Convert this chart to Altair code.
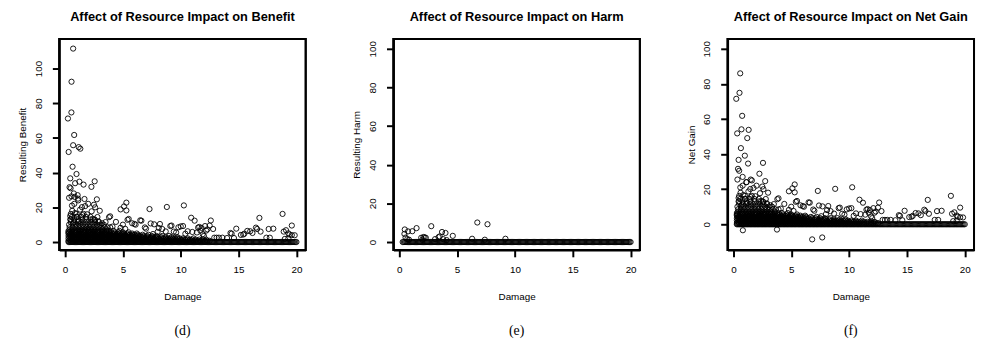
import altair as alt
import pandas as pd

# ---------------- data ----------------
titles = ["Affect of Resource Impact on Benefit",
          "Affect of Resource Impact on Harm",
          "Affect of Resource Impact on Net Gain"]
y_titles = ["Resulting Benefit", "Resulting Harm", "Net Gain"]
captions = ["(d)", "(e)", "(f)"]
x_ticks = [0, 5, 10, 15, 20]
y_ticks = [0, 20, 40, 60, 80, 100]

# solid band of points at zero (all three panels)
band0_x = [
    0.3, 0.4, 0.5, 0.6, 0.7, 0.8, 0.9, 1.0,
    1.1, 1.2, 1.3, 1.4, 1.5, 1.6, 1.7, 1.8, 1.9, 2.0,
    2.1, 2.2, 2.3, 2.4, 2.5, 2.6, 2.7, 2.8, 2.9, 3.0,
    3.1, 3.2, 3.3, 3.4, 3.5, 3.6, 3.7, 3.8, 3.9, 4.0,
    4.1, 4.2, 4.3, 4.4, 4.5, 4.6, 4.7, 4.8, 4.9, 5.0,
    5.1, 5.2, 5.3, 5.4, 5.5, 5.6, 5.7, 5.8, 5.9, 6.0,
    6.1, 6.2, 6.3, 6.4, 6.5, 6.6, 6.7, 6.8, 6.9, 7.0,
    7.1, 7.2, 7.3, 7.4, 7.5, 7.6, 7.7, 7.8, 7.9, 8.0,
    8.1, 8.2, 8.3, 8.4, 8.5, 8.6, 8.7, 8.8, 8.9, 9.0,
    9.1, 9.2, 9.3, 9.4, 9.5, 9.6, 9.7, 9.8, 9.9, 10.0,
    10.1, 10.2, 10.3, 10.4, 10.5, 10.6, 10.7, 10.8, 10.9, 11.0,
    11.1, 11.2, 11.3, 11.4, 11.5, 11.6, 11.7, 11.8, 11.9, 12.0,
    12.1, 12.2, 12.3, 12.4, 12.5, 12.6, 12.7, 12.8, 12.9, 13.0,
    13.1, 13.2, 13.3, 13.4, 13.5, 13.6, 13.7, 13.8, 13.9, 14.0,
    14.1, 14.2, 14.3, 14.4, 14.5, 14.6, 14.7, 14.8, 14.9, 15.0,
    15.1, 15.2, 15.3, 15.4, 15.5, 15.6, 15.7, 15.8, 15.9, 16.0,
    16.1, 16.2, 16.3, 16.4, 16.5, 16.6, 16.7, 16.8, 16.9, 17.0,
    17.1, 17.2, 17.3, 17.4, 17.5, 17.6, 17.7, 17.8, 17.9, 18.0,
    18.1, 18.2, 18.3, 18.4, 18.5, 18.6, 18.7, 18.8, 18.9, 19.0,
    19.1, 19.2, 19.3, 19.4, 19.5, 19.6, 19.7, 19.8, 19.9, 20.0,
]

# dense cloud of low values (benefit and net gain panels), one x-list per level
dense_levels_y = [0.7, 1.4, 2.1, 2.8, 3.5, 4.2, 4.9, 5.6, 6.4, 7.2,
                  8.5, 10.0, 11.5, 13.0, 14.5, 16.2]
dense_levels_x = [
    [0.3, 0.5, 0.7, 0.9, 1.1, 1.3, 1.5, 1.7, 1.9, 2.1, 2.3, 2.5, 2.7, 2.9,
     3.1, 3.3, 3.5, 3.7, 3.9, 4.1, 4.3, 4.5, 4.7, 4.9, 5.1, 5.3, 5.5, 5.7,
     5.9, 6.1, 6.3, 6.5, 6.7, 6.9, 7.1, 7.3, 7.5, 7.7, 7.9, 8.1, 8.3, 8.5,
     8.7, 8.9, 9.1, 9.3, 9.5, 9.7, 9.9, 10.1, 10.3, 10.5, 10.7, 10.9, 11.1,
     11.3, 11.5, 11.7, 11.9, 12.1, 12.3, 12.5],
    [0.4, 0.6, 0.8, 1.0, 1.2, 1.4, 1.6, 1.8, 2.0, 2.2, 2.4, 2.6, 2.8, 3.0,
     3.2, 3.4, 3.6, 3.8, 4.0, 4.2, 4.4, 4.6, 4.8, 5.0, 5.2, 5.4, 5.6, 5.8,
     6.0, 6.2, 6.4, 6.6, 6.8, 7.0, 7.2, 7.4, 7.6, 7.8, 8.0, 8.2, 8.4, 8.6,
     8.8, 9.0, 9.2, 9.4, 9.6, 9.8, 10.0, 10.2, 10.4, 10.6, 10.8, 11.0,
     11.3, 11.6, 11.9, 12.2],
    [0.3, 0.5, 0.7, 0.9, 1.1, 1.3, 1.5, 1.7, 1.9, 2.1, 2.3, 2.5, 2.7, 2.9,
     3.1, 3.3, 3.5, 3.7, 3.9, 4.1, 4.3, 4.5, 4.7, 4.9, 5.1, 5.3, 5.5, 5.7,
     5.9, 6.1, 6.3, 6.5, 6.7, 6.9, 7.1, 7.3, 7.5, 7.7, 7.9, 8.1, 8.3, 8.5,
     8.7, 8.9, 9.1, 9.3, 9.5, 9.7, 9.9, 10.2, 10.6, 11.1],
    [0.4, 0.6, 0.8, 1.0, 1.2, 1.4, 1.6, 1.8, 2.0, 2.2, 2.4, 2.6, 2.8, 3.0,
     3.2, 3.4, 3.6, 3.8, 4.0, 4.2, 4.4, 4.6, 4.8, 5.0, 5.2, 5.4, 5.6, 5.8,
     6.0, 6.2, 6.4, 6.6, 6.8, 7.0, 7.2, 7.4, 7.6, 7.8, 8.0, 8.3, 8.7, 9.2,
     9.7],
    [0.3, 0.5, 0.7, 0.9, 1.1, 1.3, 1.5, 1.7, 1.9, 2.1, 2.3, 2.5, 2.7, 2.9,
     3.1, 3.3, 3.5, 3.7, 3.9, 4.1, 4.3, 4.5, 4.7, 4.9, 5.1, 5.3, 5.5, 5.7,
     5.9, 6.1, 6.3, 6.5, 6.8, 7.1, 7.5, 7.9, 8.4, 9.0],
    [0.4, 0.6, 0.8, 1.0, 1.2, 1.4, 1.6, 1.8, 2.0, 2.2, 2.4, 2.6, 2.8, 3.0,
     3.2, 3.4, 3.6, 3.8, 4.0, 4.2, 4.4, 4.6, 4.8, 5.0, 5.2, 5.4, 5.6, 5.8,
     6.0, 6.3, 6.7, 7.2],
    [0.3, 0.5, 0.7, 0.9, 1.1, 1.3, 1.5, 1.7, 1.9, 2.1, 2.3, 2.5, 2.7, 2.9,
     3.1, 3.3, 3.5, 3.7, 3.9, 4.1, 4.3, 4.5, 4.7, 4.9, 5.1, 5.4, 5.8, 6.2],
    [0.4, 0.6, 0.8, 1.0, 1.2, 1.4, 1.6, 1.8, 2.0, 2.2, 2.4, 2.6, 2.8, 3.0,
     3.2, 3.4, 3.6, 3.8, 4.0, 4.3, 4.6, 5.0, 5.5],
    [0.3, 0.55, 0.8, 1.05, 1.3, 1.55, 1.8, 2.05, 2.3, 2.55, 2.8, 3.05, 3.3,
     3.55, 3.8, 4.2, 4.7],
    [0.4, 0.65, 0.9, 1.15, 1.4, 1.65, 1.9, 2.15, 2.4, 2.65, 2.9, 3.2, 3.6],
    [0.4, 0.65, 0.9, 1.15, 1.4, 1.65, 1.9, 2.15, 2.4, 2.65, 2.9, 3.15, 3.4,
     3.65, 3.9],
    [0.35, 0.65, 0.95, 1.25, 1.55, 1.85, 2.15, 2.45, 2.75, 3.05, 3.35],
    [0.5, 0.8, 1.1, 1.4, 1.7, 2.0, 2.3, 2.6, 2.9],
    [0.45, 0.8, 1.15, 1.5, 1.85, 2.2, 2.55],
    [0.6, 1.0, 1.4, 1.8, 2.2],
    [0.5, 1.0, 1.6],
]

# scattered points shared by the benefit and net-gain panels
common_points = [
    (1.14, 24.0), (0.80, 22.0), (0.60, 21.0), (2.50, 21.5), (2.60, 20.0),
    (3.00, 18.0), (2.00, 22.0), (1.74, 20.7), (1.46, 20.1), (0.62, 18.0),
    (0.86, 16.7), (1.30, 18.7), (2.30, 17.7), (4.80, 18.8), (5.10, 20.5),
    (5.30, 22.7), (5.30, 18.2), (7.30, 19.0), (8.80, 20.2), (10.27, 21.1),
    (3.80, 14.3), (3.90, 14.8), (4.40, 11.6), (5.40, 12.8), (5.50, 13.3),
    (5.80, 10.8), (6.10, 10.0), (6.50, 12.5), (6.90, 8.4), (7.40, 10.7),
    (7.70, 10.2), (8.10, 8.1), (8.20, 10.4), (8.40, 7.5), (9.10, 9.2),
    (9.20, 9.5), (9.80, 8.5), (10.0, 9.0), (10.2, 9.2), (3.20, 10.8),
    (3.50, 11.5), (4.10, 8.9), (4.80, 8.2), (5.20, 7.6), (2.40, 13.3),
    (2.60, 12.6), (2.80, 14.4), (1.90, 16.0), (2.90, 11.9), (0.30, 5.6),
    (0.45, 15.0), (0.50, 13.0), (0.70, 11.0), (1.00, 14.5), (1.50, 15.5),
    (1.20, 12.0), (10.9, 14.0), (11.2, 12.3), (12.6, 12.4), (12.1, 9.2),
    (12.2, 6.6), (12.3, 7.3), (11.6, 8.7), (11.8, 8.1), (11.4, 5.5),
    (11.0, 5.8), (10.6, 6.2), (10.4, 4.8), (9.6, 5.5), (9.4, 6.0),
    (8.7, 6.1), (8.0, 5.8), (7.6, 4.6), (7.0, 7.7), (12.8, 7.5),
    (12.9, 2.5), (13.1, 2.5), (13.3, 2.5), (13.6, 2.5), (14.0, 2.3),
    (14.3, 5.2), (14.6, 2.3), (14.8, 7.7), (15.4, 4.3), (15.75, 6.4),
    (16.0, 6.2), (16.2, 5.2), (16.6, 7.5), (16.8, 13.9), (16.9, 6.0),
    (17.4, 2.5), (17.7, 2.5), (17.6, 7.5), (18.0, 7.7), (18.8, 16.2),
    (19.1, 6.8), (19.4, 4.3), (19.6, 9.5), (19.85, 3.9), (19.3, 2.0),
    (19.0, 1.8), (12.0, 3.5), (11.9, 4.5), (15.2, 4.1), (15.5, 4.8),
    (14.4, 4.8), (16.5, 8.3), (18.9, 6.0), (19.3, 5.0), (19.6, 4.0),
    (11.5, 8.3), (11.7, 6.6), (12.5, 9.5), (6.0, 10.4), (6.6, 12.3),
    (5.0, 10.0),
]

benefit_points = [
    (0.70, 111.5), (0.56, 92.4), (0.55, 74.7), (0.25, 71.2), (0.79, 61.7),
    (0.70, 55.8), (1.18, 54.7), (1.32, 53.8), (0.31, 51.9), (0.65, 43.4),
    (0.99, 39.2), (0.45, 36.7), (2.56, 35.0), (1.24, 34.8), (0.87, 33.9),
    (1.60, 33.1), (2.28, 31.8), (0.39, 31.6), (0.48, 31.0), (0.76, 28.0),
    (1.09, 27.0), (0.56, 26.3), (0.84, 26.0), (1.68, 24.8), (0.35, 25.5),
    (2.75, 24.6), (1.12, 25.0),
]

net_points = [
    (0.59, 86.0), (0.53, 74.9), (0.25, 71.5), (0.76, 61.8), (0.70, 54.1),
    (1.32, 53.8), (0.33, 51.8), (1.20, 49.1), (0.65, 43.4), (0.99, 39.1),
    (0.45, 36.7), (2.56, 35.0), (1.27, 34.6), (2.25, 28.8), (0.40, 31.6),
    (0.50, 30.5), (0.80, 27.0), (1.50, 25.5), (1.60, 25.0), (0.35, 25.5),
    (2.75, 24.6), (1.12, 24.0),
    (0.82, -3.4), (3.77, -3.0), (6.81, -8.6), (7.68, -7.5),
]

harm_points = [
    (0.48, 6.5), (0.45, 4.2), (0.76, 5.5), (1.13, 5.6), (1.50, 7.2),
    (2.77, 8.2), (1.90, 2.2), (2.10, 2.6), (2.20, 2.4), (2.30, 2.2),
    (3.40, 2.5), (3.70, 5.2), (4.00, 4.7), (4.63, 3.2), (6.75, 10.1),
    (7.63, 9.2), (6.30, 1.7), (7.40, 1.2), (9.18, 1.7), (0.70, 1.5),
    (0.85, 1.2), (3.10, 1.5), (3.80, 1.5), (2.00, 1.2), (0.55, 2.3),
    (4.10, 1.0), (3.50, 2.9),
]

y_domains = [[-4.55, 117.05], [-4.08, 105.1], [-14.6, 105.6]]
x_domain = [-0.5, 20.8]

# ---------------- build tables ----------------
def table(point_lists, with_dense):
    xs = list(band0_x)
    ys = [0.0] * len(band0_x)
    if with_dense:
        for lvl_y, lvl_x in zip(dense_levels_y, dense_levels_x):
            xs += lvl_x
            ys += [lvl_y] * len(lvl_x)
    for pts in point_lists:
        xs += [p[0] for p in pts]
        ys += [p[1] for p in pts]
    return pd.DataFrame({"x": xs, "y": ys})

tables = [
    table([common_points, benefit_points], True),
    table([harm_points], False),
    table([common_points, net_points], True),
]

W, H = 250, 214
FONT = "Liberation Sans"


def panel(i):
    pts = alt.Chart(tables[i]).mark_point(
        shape="circle", filled=False, color="black", size=28,
        strokeWidth=0.9, opacity=1
    ).encode(
        x=alt.X("x:Q",
                scale=alt.Scale(domain=x_domain, nice=False, zero=False),
                axis=alt.Axis(values=x_ticks, title="Damage", grid=False,
                              domain=True, domainColor="black",
                              domainWidth=2, tickSize=7, tickColor="black",
                              tickWidth=2, labelFont=FONT, labelFontSize=10,
                              labelColor="black", labelPadding=8,
                              titleFont=FONT, titleFontSize=10,
                              titleFontWeight="normal", titleColor="black",
                              titlePadding=17)),
        y=alt.Y("y:Q",
                scale=alt.Scale(domain=y_domains[i], nice=False, zero=False),
                axis=alt.Axis(values=y_ticks, title=y_titles[i], grid=False,
                              domain=True, domainColor="black",
                              domainWidth=2, tickSize=7, tickColor="black",
                              tickWidth=2, labelAngle=270, labelFont=FONT,
                              labelFontSize=10, labelColor="black",
                              labelPadding=9, titleFont=FONT,
                              titleFontSize=10, titleFontWeight="normal",
                              titleColor="black", titlePadding=6,
                              minExtent=26, maxExtent=26)),
    )
    box = alt.Chart(pd.DataFrame({"b": [0]})).mark_rect(
        filled=False, stroke="black", strokeWidth=2
    ).encode(x=alt.value(0), x2=alt.value(W), y=alt.value(0), y2=alt.value(H))
    cap = alt.Chart(pd.DataFrame({"t": [captions[i]]})).mark_text(
        font="Liberation Serif", fontSize=14, color="black"
    ).encode(x=alt.value(W / 2), y=alt.value(296), text="t:N")
    return alt.layer(pts, box, cap).properties(
        width=W, height=H,
        title=alt.TitleParams(titles[i], font=FONT, fontSize=13,
                              fontWeight="bold", color="black",
                              anchor="middle", offset=14),
    )


chart = alt.hconcat(panel(0), panel(1), panel(2), spacing=44).properties(
    padding={"left": 9, "top": 0, "right": 0, "bottom": 0}
).configure_view(stroke="black", strokeWidth=2)

chart.save("out.html", embed_options={"renderer": "svg", "actions": False})
